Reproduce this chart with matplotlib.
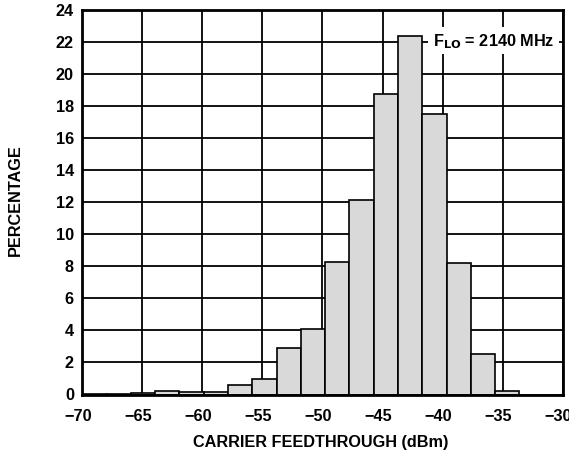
import matplotlib
matplotlib.use("Agg")
import matplotlib.pyplot as plt
import matplotlib.transforms as mtransforms
import numpy as np

plt.rcParams['font.family'] = ['Liberation Sans', 'DejaVu Sans']
plt.rcParams['font.weight'] = 'bold'
plt.rcParams['mathtext.default'] = 'bf'

# Histogram data: carrier feedthrough (dBm) vs percentage
bin_start = -70.0
bin_width = 2.022
percentages = [0.05, 0.02, 0.1, 0.2, 0.15, 0.15, 0.6, 0.95, 2.9, 4.1,
               8.3, 12.17, 18.73, 22.4, 17.5, 8.19, 2.52, 0.2]
x_ticks = [-70, -65, -60, -55, -50, -45, -40, -35, -30]
x_tick_labels = ['\u221270', '\u221265', '\u221260', '\u221255', '\u221250',
                 '\u221245', '\u221240', '\u221235', '\u221230']
y_ticks = [0, 2, 4, 6, 8, 10, 12, 14, 16, 18, 20, 22, 24]

FS = 11.7
W, H = 569, 456
fig = plt.figure(figsize=(W / 100, H / 100), dpi=100)
ax = fig.add_axes([82.3 / W, 1 - 395.5 / H, 480.4 / W, 384.5 / H])

lefts = bin_start + bin_width * np.arange(len(percentages))
ax.bar(lefts, percentages, width=bin_width, align='edge',
       color='#d9d9d9', edgecolor='black', linewidth=1.2, zorder=3)

ax.set_xlim(-70, -30)
ax.set_ylim(0, 24)
ax.set_xticks(x_ticks)
ax.set_xticklabels(x_tick_labels)
ax.set_yticks(y_ticks)
ax.tick_params(axis='x', length=0, labelsize=FS, pad=10)
ax.tick_params(axis='y', length=0, labelsize=FS, pad=6)
shift = mtransforms.ScaledTranslation(-4.5 / 100, 0, fig.dpi_scale_trans)
for lab in ax.get_xticklabels():
    lab.set_fontweight('bold')
    lab.set_transform(lab.get_transform() + shift)
yshift = mtransforms.ScaledTranslation(0, 1.0 / 100, fig.dpi_scale_trans)
for lab in ax.get_yticklabels():
    lab.set_fontweight('bold')
    lab.set_transform(lab.get_transform() + yshift)

ax.grid(True, color='black', linewidth=1.3, zorder=1)
ax.set_axisbelow(True)
for s in ax.spines.values():
    s.set_linewidth(2)
    s.set_zorder(5)

fig.text(321 / W, 1 - 443 / H, 'CARRIER FEEDTHROUGH (dBm)', fontsize=FS,
         fontweight='bold', ha='center', va='center')
fig.text(15.5 / W, 1 - 200 / H, 'PERCENTAGE', fontsize=FS, fontweight='bold',
         rotation=90, ha='center', va='center')

ax.text(-40.8, 22.09, r'F$_{\mathbf{LO}}$ = 2140 MHz', fontsize=FS, fontweight='bold',
        ha='left', va='center', zorder=6,
        bbox=dict(boxstyle='square,pad=0.28', facecolor='white', edgecolor='none'))

fig.savefig('out.png', dpi=100)
